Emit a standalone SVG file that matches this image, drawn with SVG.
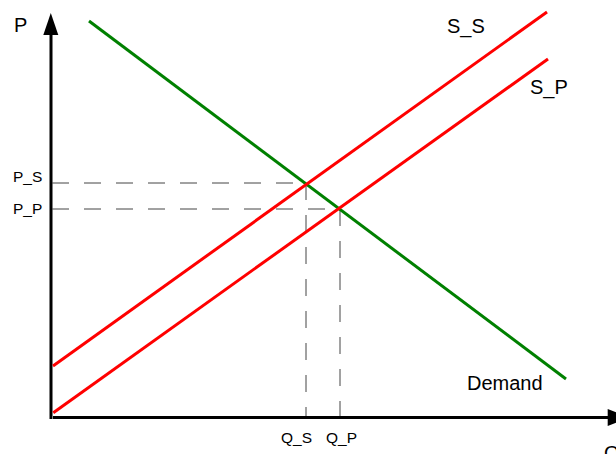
<svg xmlns="http://www.w3.org/2000/svg" width="616" height="454" viewBox="0 0 616 454">
<style>
.axis{stroke:#000;stroke-width:3;fill:none}
.head{fill:#000;stroke:none}
.dash{stroke:#444;stroke-width:1;stroke-dasharray:17 15;fill:none}
.supply{stroke:#ff0000;stroke-width:3;fill:none}
.demand{stroke:#008000;stroke-width:3;fill:none}
text{font-family:"Liberation Sans",Arial,sans-serif;fill:#000}
.big{font-size:20px}
.small{font-size:15.5px}
</style>
<rect width="616" height="454" fill="#fff"/>
<g id="axes">
<line class="axis" x1="51" y1="419" x2="51" y2="33"/>
<polygon class="head" points="50.8,13 43.3,35 58.3,35"/>
<line class="axis" x1="53" y1="417.5" x2="609" y2="417.5"/>
<polygon class="head" points="630,417.5 607.7,409 607.7,426"/>
<text class="big" x="14" y="32">P</text>
<text class="big" x="604" y="460">Q</text>
</g>
<g id="connectors">
<line class="dash" x1="52" y1="183" x2="306" y2="183"/>
<line class="dash" x1="52" y1="209" x2="340" y2="209"/>
<line class="dash" x1="306" y1="183" x2="306" y2="416"/>
<line class="dash" x1="340" y1="209" x2="340" y2="416"/>
</g>
<g id="demand">
<line class="demand" x1="89" y1="21" x2="566" y2="379"/>
<text class="big" x="467" y="390">Demand</text>
</g>
<g id="supply-s">
<line class="supply" x1="53" y1="366" x2="547" y2="12"/>
<text class="big" x="447" y="33">S_S</text>
</g>
<g id="supply-p">
<line class="supply" x1="53.3" y1="412.7" x2="548" y2="59"/>
<text class="big" x="530" y="94">S_P</text>
</g>
<g id="labels">
<text class="small" x="13" y="182">P_S</text>
<text class="small" x="13" y="214">P_P</text>
<text class="small" x="281" y="443">Q_S</text>
<text class="small" x="326" y="443">Q_P</text>
</g>
</svg>
